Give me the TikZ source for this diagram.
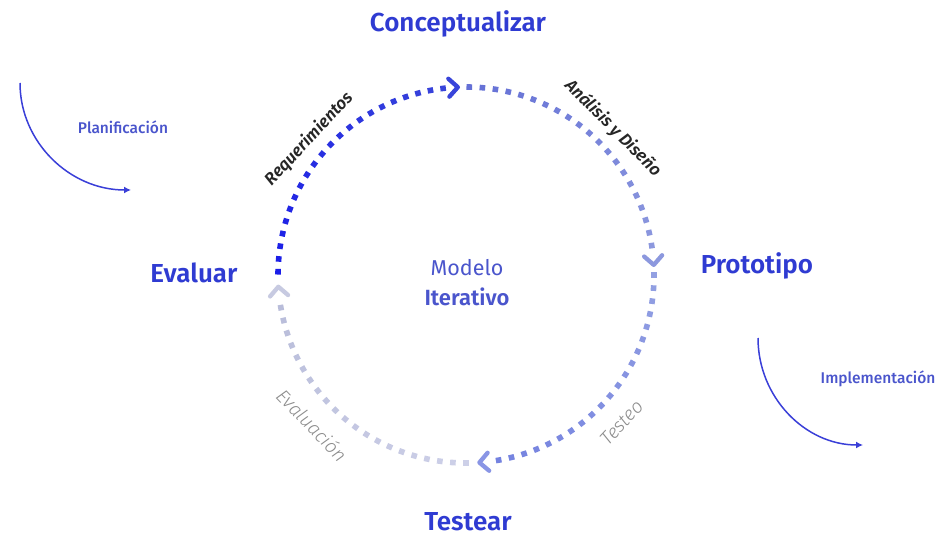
\documentclass[tikz,border=0pt]{standalone}
\usepackage{fontspec}
\setmainfont{Fira Sans}
\newfontfamily\fsb{Fira Sans SemiBold}
\newfontfamily\flt{Fira Sans Light}
\newfontfamily\fmd{Fira Sans Medium}
\usetikzlibrary{arrows.meta}
\definecolor{titleblue}{HTML}{2F3BD2}
\definecolor{midblue}{HTML}{4A55CC}
\definecolor{darkA}{HTML}{1A1DE8}
\definecolor{darkB}{HTML}{3844DA}
\definecolor{q2A}{HTML}{6470D6}
\definecolor{q2B}{HTML}{8C98DE}
\definecolor{q3A}{HTML}{93A0E2}
\definecolor{q3B}{HTML}{7482E0}
\definecolor{q4A}{HTML}{CDD0E8}
\definecolor{q4B}{HTML}{B9BDDA}
\definecolor{arcblue}{HTML}{3A3FD8}
\newcommand\dotarc[5]{%
  \foreach \ii in {0,...,#3}{%
    \pgfmathsetmacro\angv{#1+(#2-#1)*\ii/#3}%
    \pgfmathsetmacro\pcv{100-100*\ii/#3}%
    \fill[#4!\pcv!#5, shift={(\angv:188)}, rotate=\angv] (-2.8,-2.8) rectangle (2.8,2.8);
  }}
\tikzset{
  chev/.style={line width=4.3pt, line cap=round, line join=round},
  title/.style={font=\fsb\fontsize{26}{28}\selectfont, text=titleblue, inner sep=0pt},
  arclabel/.style={font=\fsb\itshape\fontsize{17}{19}\selectfont, text=black!85, inner sep=0pt},
  graylabel/.style={font=\flt\itshape\fontsize{19}{21}\selectfont, text=black!45, inner sep=0pt},
  sidelabel/.style={font=\fmd\fontsize{15.5}{17}\selectfont, text=midblue, inner sep=0pt},
  sidearc/.style={draw=arcblue, line width=1.5pt, -{Latex[length=7pt,width=7pt]}}
}
\begin{document}
\begin{tikzpicture}[x=1pt,y=1pt]
\useasboundingbox (0,0) rectangle (949,536);
\fill[white] (0,0) rectangle (949,536);
\begin{scope}[shift={(466,261)}]
  \dotarc{179}{97}{21}{darkA}{darkB}
  \dotarc{89}{9}{20}{q2A}{q2B}
  \dotarc{0}{-80}{20}{q3A}{q3B}
  \dotarc{-90}{-170}{20}{q4A}{q4B}
  \draw[chev, draw=darkB, shift={(93.4:188)}, rotate=3.4] (-6,9) -- (3,0) -- (-6,-9);
  \draw[chev, draw=q2B, shift={(4:188)}, rotate=-86] (-6,9) -- (3,0) -- (-6,-9);
  \draw[chev, draw=q3B!85!white, shift={(-85:188)}, rotate=-175] (-6,9) -- (3,0) -- (-6,-9);
  \draw[chev, draw=q4B!80!white, shift={(184.5:188)}, rotate=94.5] (-6,9) -- (3,0) -- (-6,-9);
\end{scope}
\node[title] (conc) at (458,512) {Conceptualizar};
\node[title] (proto) at (757,270) {Prototipo};
\node[title] (eval) at (194,263) {Evaluar};
\node[title] (test) at (468,14) {Testear};
\node[font=\fontsize{21.5}{23}\selectfont, text=midblue, inner sep=0pt] (mod) at (467,268) {Modelo};
\node[font=\fsb\fontsize{22}{24}\selectfont, text=midblue, inner sep=0pt] (iter) at (467,239) {Iterativo};
\node[arclabel, rotate=47] (req) at (309,397) {Requerimientos};
\node[arclabel, rotate=-45] (ana) at (613,408) {Análisis y Diseño};
\node[graylabel, rotate=-46] (evl) at (312,111) {Evaluación};
\node[graylabel, rotate=47] (tst) at (622,113) {Testeo};
\node[sidelabel] (plan) at (123,409) {Planificación};
\node[sidelabel] (impl) at (878,157) {Implementación};
\coordinate (p1) at (20,453);
\coordinate (p2) at (131,346);
\coordinate (i1) at (758,198);
\coordinate (i2) at (863,91);
\draw[sidearc] (p1) arc[start angle=180, end angle=270, x radius=111, y radius=107];
\draw[sidearc] (i1) arc[start angle=180, end angle=270, x radius=105, y radius=107];
\end{tikzpicture}
\end{document}
